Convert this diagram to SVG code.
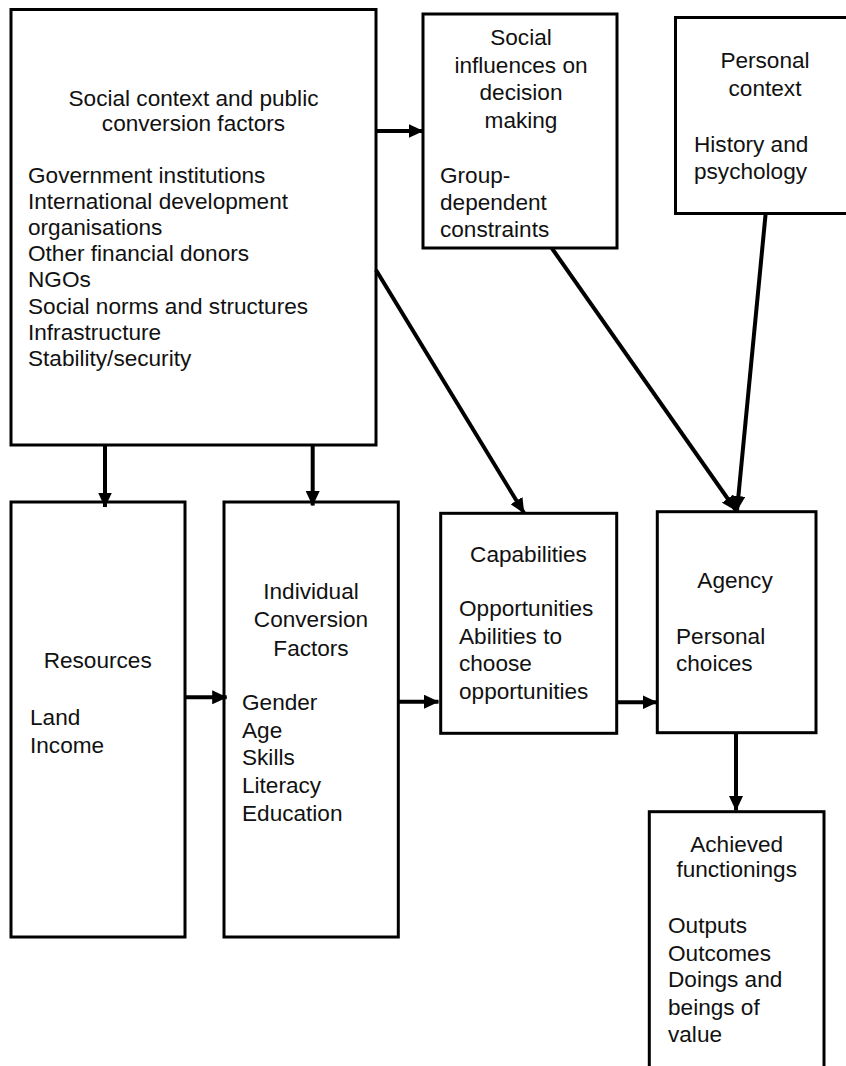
<svg xmlns="http://www.w3.org/2000/svg" width="846" height="1066" viewBox="0 0 846 1066">
<style>
.box{fill:#fff;stroke:#000;stroke-width:3}
text{font-family:"Liberation Sans",Arial,sans-serif;font-size:22.6px;fill:#111}
.c{text-anchor:middle}
.arr{stroke:#000;stroke-width:4;fill:none;marker-end:url(#ah)}
</style>
<defs>
<marker id="ah" markerUnits="userSpaceOnUse" markerWidth="15" markerHeight="14" refX="14.5" refY="7" orient="auto">
<path d="M0,0 L15,7 L0,14 z" fill="#000"/>
</marker>
</defs>
<rect width="846" height="1066" fill="#fff"/>
<g id="social-context">
<rect class="box" x="11" y="9.5" width="365" height="435.5"/>
<text class="c" x="193.5" y="106">Social context and public</text>
<text class="c" x="193.5" y="131">conversion factors</text>
<text x="28" y="183">Government institutions</text>
<text x="28" y="209">International development</text>
<text x="28" y="235">organisations</text>
<text x="28" y="261.3">Other financial donors</text>
<text x="28" y="287.4">NGOs</text>
<text x="28" y="313.5">Social norms and structures</text>
<text x="28" y="339.6">Infrastructure</text>
<text x="28" y="365.7">Stability/security</text>
</g>
<g id="social-influences">
<rect class="box" x="423" y="14" width="194" height="234"/>
<text class="c" x="521" y="45">Social</text>
<text class="c" x="521" y="72.5">influences on</text>
<text class="c" x="521" y="100">decision</text>
<text class="c" x="521" y="127.5">making</text>
<text x="440" y="182.5">Group-</text>
<text x="440" y="210">dependent</text>
<text x="440" y="237">constraints</text>
</g>
<g id="personal-context">
<rect class="box" x="675.5" y="17.5" width="190" height="196"/>
<text class="c" x="765" y="68">Personal</text>
<text class="c" x="765" y="96">context</text>
<text x="694" y="151.5">History and</text>
<text x="694" y="179">psychology</text>
</g>
<g id="resources">
<rect class="box" x="11" y="502" width="174" height="435"/>
<text class="c" x="97.7" y="668">Resources</text>
<text x="30" y="725">Land</text>
<text x="30" y="752.5">Income</text>
</g>
<g id="individual-conversion">
<rect class="box" x="224" y="502" width="174.3" height="435"/>
<text class="c" x="311" y="599">Individual</text>
<text class="c" x="311" y="627">Conversion</text>
<text class="c" x="311" y="655.5">Factors</text>
<text x="242" y="710">Gender</text>
<text x="242" y="737.5">Age</text>
<text x="242" y="765">Skills</text>
<text x="242" y="793">Literacy</text>
<text x="242" y="820.5">Education</text>
</g>
<g id="capabilities">
<rect class="box" x="440.7" y="513.3" width="176" height="220"/>
<text class="c" x="528.5" y="561.5">Capabilities</text>
<text x="459" y="616">Opportunities</text>
<text x="459" y="643.5">Abilities to</text>
<text x="459" y="671">choose</text>
<text x="459" y="698.5">opportunities</text>
</g>
<g id="agency">
<rect class="box" x="657.3" y="511.7" width="158.7" height="221"/>
<text class="c" x="735" y="588">Agency</text>
<text x="676" y="643.5">Personal</text>
<text x="676" y="671">choices</text>
</g>
<g id="achieved-functionings">
<rect class="box" x="649.3" y="811.7" width="174.7" height="280"/>
<text class="c" x="736.7" y="851.5">Achieved</text>
<text class="c" x="736.7" y="877">functionings</text>
<text x="668" y="933">Outputs</text>
<text x="668" y="960.5">Outcomes</text>
<text x="668" y="987">Doings and</text>
<text x="668" y="1014.5">beings of</text>
<text x="668" y="1042">value</text>
</g>
<g id="connectors">
<line class="arr" x1="377" y1="131" x2="423" y2="131"/>
<line class="arr" x1="105" y1="446" x2="105" y2="507"/>
<line class="arr" x1="312.7" y1="446" x2="312.7" y2="505.5"/>
<line class="arr" x1="185" y1="697.3" x2="226.7" y2="697.3"/>
<line class="arr" x1="397" y1="701.7" x2="438.5" y2="701.7"/>
<line class="arr" x1="617" y1="702.3" x2="657" y2="702.3"/>
<line class="arr" x1="736" y1="733" x2="736" y2="810.5"/>
<line class="arr" x1="376" y1="270" x2="524" y2="513"/>
<line class="arr" x1="551.7" y1="248" x2="736" y2="510.5"/>
<line class="arr" x1="765.7" y1="213" x2="737" y2="510.5"/>
</g>
</svg>
